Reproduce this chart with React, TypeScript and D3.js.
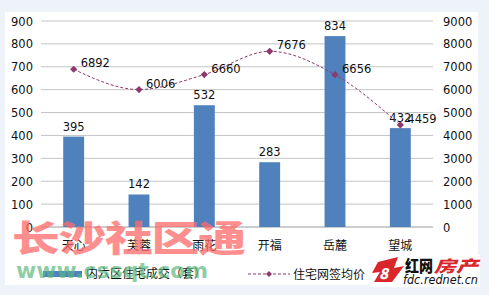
import React from "react";
import * as d3 from "d3";

const categories = ["天心", "芙蓉", "雨花", "开福", "岳麓", "望城"];
const deals = [395, 142, 532, 283, 834, 432];
const prices = [6892, 6006, 6660, 7676, 6656, 4459];
const leftTicks = [0, 100, 200, 300, 400, 500, 600, 700, 800, 900];
const rightTicks = [0, 1000, 2000, 3000, 4000, 5000, 6000, 7000, 8000, 9000];
const legendBar = "内六区住宅成交（套）";
const legendLine = "住宅网签均价（元/㎡）";

const W = 489, H = 295;
const plot = { left: 41, right: 433, top: 21, bottom: 227 };
const numFont = "'DejaVu Sans', Verdana, sans-serif";
const cjkFont = "'Noto Sans CJK SC', sans-serif";

export default function App() {
  const x = d3.scaleBand().domain(categories).range([plot.left, plot.right]).paddingInner(0.68).paddingOuter(0.34);
  const yL = d3.scaleLinear().domain([0, 900]).range([plot.bottom, plot.top]);
  const yR = d3.scaleLinear().domain([0, 9000]).range([plot.bottom, plot.top]);
  const cx = (c: string) => (x(c) as number) + x.bandwidth() / 2;
  const line = d3.line<number>().x((_, i) => cx(categories[i])).y((d) => yR(d)).curve(d3.curveMonotoneX);
  const lineColor = "#8c3a6e";
  const diamond = (px: number, py: number, r = 3.6) => `M${px},${py - r}L${px + r},${py}L${px},${py + r}L${px - r},${py}Z`;
  return (
    <div style={{ position: "fixed", left: 0, top: 0 }}>
      <svg width={W} height={H} style={{ display: "block" }}>
        <rect x={0} y={0} width={W} height={H} fill="#eef3fa" />
        <rect x={5} y={12} width={473} height={273} fill="#ffffff" />
        {leftTicks.map((t) => (
          <g key={t}>
            <line x1={plot.left} x2={plot.right} y1={yL(t)} y2={yL(t)} stroke={t === 0 ? "#9a9a9a" : "#c4c4c4"} strokeWidth={1} />
            <text x={33} y={yL(t) + 4.5} textAnchor="end" fontFamily={numFont} fontSize={11.5} fill="#111">{t}</text>
          </g>
        ))}
        {rightTicks.map((t) => (
          <text key={t} x={443} y={yR(t) + 4.5} fontFamily={numFont} fontSize={11.5} fill="#111">{t}</text>
        ))}
        {categories.map((c, i) => (
          <g key={c}>
            <rect x={x(c)} y={yL(deals[i])} width={x.bandwidth()} height={plot.bottom - yL(deals[i])} fill="#4f81bd" />
            <text x={cx(c)} y={yL(deals[i]) - 6} textAnchor="middle" fontFamily={numFont} fontSize={11.5} fill="#111">{deals[i]}</text>
            <text x={cx(c)} y={plot.bottom + 23} textAnchor="middle" fontFamily={cjkFont} fontSize={12} fill="#111">{c}</text>
          </g>
        ))}
        <path d={line(prices) || ""} fill="none" stroke={lineColor} strokeWidth={1} strokeDasharray="3,2" />
        {categories.map((c, i) => (
          <g key={c + "p"}>
            <path d={diamond(cx(c), yR(prices[i]))} fill={lineColor} />
            <text x={cx(c) + 7} y={yR(prices[i]) - 2} fontFamily={numFont} fontSize={11.5} fill="#111">{prices[i]}</text>
          </g>
        ))}
        {/* legend */}
        <rect x={43} y={271} width={39} height={6} fill="#4f81bd" />
        <text x={86} y={278} fontFamily={cjkFont} fontSize={12} fill="#111">{legendBar}</text>
        <line x1={248} x2={290} y1={274} y2={274} stroke={lineColor} strokeDasharray="3,2" />
        <path d={diamond(269, 274, 3)} fill={lineColor} />
        <text x={293} y={279} fontFamily={cjkFont} fontSize={12} fill="#111">{legendLine}</text>
        {/* watermarks */}
        <g transform="translate(12,252) scale(1.33,1)">
          <text x={0} y={0} fontFamily={cjkFont} fontWeight={900} fontSize={36} fill="#ff6a6a" fillOpacity={0.75} letterSpacing={-1}>长沙社区通</text>
        </g>
        <text x={16} y={278} fontFamily="'DejaVu Sans', sans-serif" fontWeight={700} fontSize={22} fill="#5cb87e" fillOpacity={0.7} textLength={192} lengthAdjust="spacingAndGlyphs">www.cssqt.com</text>
        <rect x={370} y={255} width={110} height={32} fill="#ffffff" />
        <path d="M378,262 L398,257 L394,268 L404,266 L392,282 L374,282 L380,272 L372,273 Z" fill="#d8262b" />
        <text x={379} y={279} fontFamily={cjkFont} fontWeight={900} fontSize={15} fontStyle="italic" fill="#ffffff">8</text>
        <text x={405} y={272} fontFamily={cjkFont} fontWeight={900} fontSize={16} fill="#111" textLength={28} lengthAdjust="spacingAndGlyphs">红网</text>
        <text x={434} y={272} fontFamily={cjkFont} fontWeight={900} fontSize={16} fontStyle="italic" fill="#d8262b" textLength={44} lengthAdjust="spacingAndGlyphs">房产</text>
        <text x={403} y={284} fontFamily="'DejaVu Sans', sans-serif" fontStyle="italic" fontSize={12} fill="#111" textLength={75} lengthAdjust="spacingAndGlyphs">fdc.rednet.cn</text>
      </svg>
    </div>
  );
}
